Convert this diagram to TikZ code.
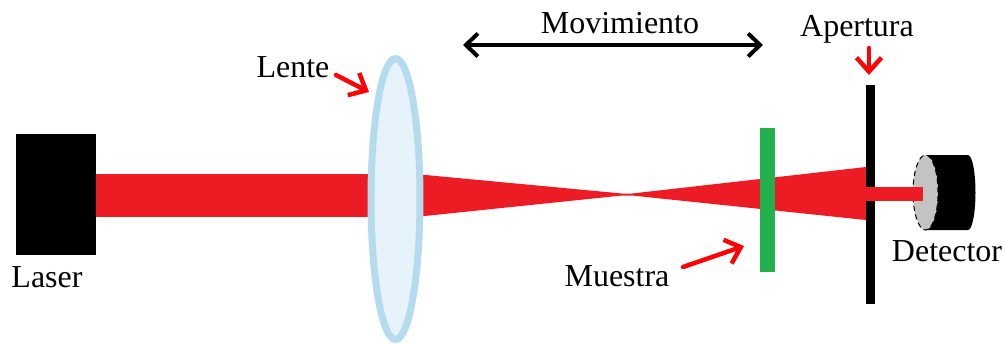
\documentclass[tikz,border=0pt]{standalone}
\usepackage{fontspec}
\setmainfont{Liberation Serif}
\usetikzlibrary{arrows.meta,shapes.geometric}
\definecolor{beamred}{HTML}{ED1C24}
\definecolor{lensedge}{HTML}{B4DCEE}
\definecolor{lensfill}{HTML}{E6F3FA}
\definecolor{samplegreen}{HTML}{22B14C}
\definecolor{facegray}{HTML}{C3C3C3}
\tikzset{
  label/.style={font=\fontsize{18.2pt}{20pt}\selectfont, inner sep=0pt},
  block/.style={draw=none, inner sep=0pt, outer sep=0pt},
  lens/.style={ellipse, draw=lensedge, fill=lensfill, line width=1.4mm, inner sep=0pt,
               minimum width=9.8mm, minimum height=56.2mm},
  beam/.style={fill=beamred, draw=none},
  pointer/.style={-{Straight Barb[length=2.8mm,width=5mm,line width=0.9mm]}, line width=0.9mm, red!90!beamred, line cap=round},
  travel/.style={{Straight Barb[length=2.4mm,width=4.6mm,line width=0.8mm]}-{Straight Barb[length=2.4mm,width=4.6mm,line width=0.8mm]}, line width=0.8mm, black},
}
\begin{document}
\begin{tikzpicture}[x=0.02cm,y=-0.02cm]
    \useasboundingbox (0,0) rectangle (1005,343);
    % beam
    \fill[beam] (96,174) rectangle (380,217);
    \fill[beam] (415,174) -- (622,193.5) -- (632,193.5) -- (866,167) -- (866,220) -- (632,195.5) -- (622,195.5) -- (415,217) -- cycle;
    % optics
    \node[block, fill=black, minimum width=16mm, minimum height=24.2mm] (laser) at (56,194.5) {};
    \node[lens] (lente) at (395.5,199) {};
    \node[block, fill=samplegreen, minimum width=3mm, minimum height=28.8mm] (muestra) at (767.5,200) {};
    \node[block, fill=black, minimum width=1.8mm, minimum height=43.8mm] (apertura) at (870.5,194.5) {};
    % detector
    \fill[black] (925,155) -- (968,155) arc[start angle=-90, end angle=90, x radius=7.5, y radius=37.5] -- (925,230) -- cycle;
    \node[ellipse, draw=black, densely dashed, line width=0.2mm, fill=facegray, inner sep=0pt,
          minimum width=5mm, minimum height=15mm] (detector) at (925.5,192.5) {};
    \fill[beam] (866,187) rectangle (923,201);
    % labels
    \node[label] (lasertxt) at (47,277) {Laser};
    \node[label] (lentetxt) at (293,67) {Lente};
    \node[label] (movtxt) at (620,23) {Movimiento};
    \node[label] (apertxt) at (857,29) {Apertura};
    \node[label] (muestxt) at (617,276) {Muestra};
    \node[label] (dettxt) at (947,251) {Detector};
    % arrows
    \coordinate (m0) at (463,45);
    \coordinate (m1) at (763,45);
    \coordinate (a0) at (336,75);
    \coordinate (a1) at (369,92);
    \coordinate (b0) at (869,48);
    \coordinate (b1) at (869,75);
    \coordinate (c0) at (683,267);
    \coordinate (c1) at (744,246);
    \draw[travel] (m0) -- (m1);
    \draw[pointer] (a0) -- (a1);
    \draw[pointer] (b0) -- (b1);
    \draw[pointer] (c0) -- (c1);
\end{tikzpicture}
\end{document}
